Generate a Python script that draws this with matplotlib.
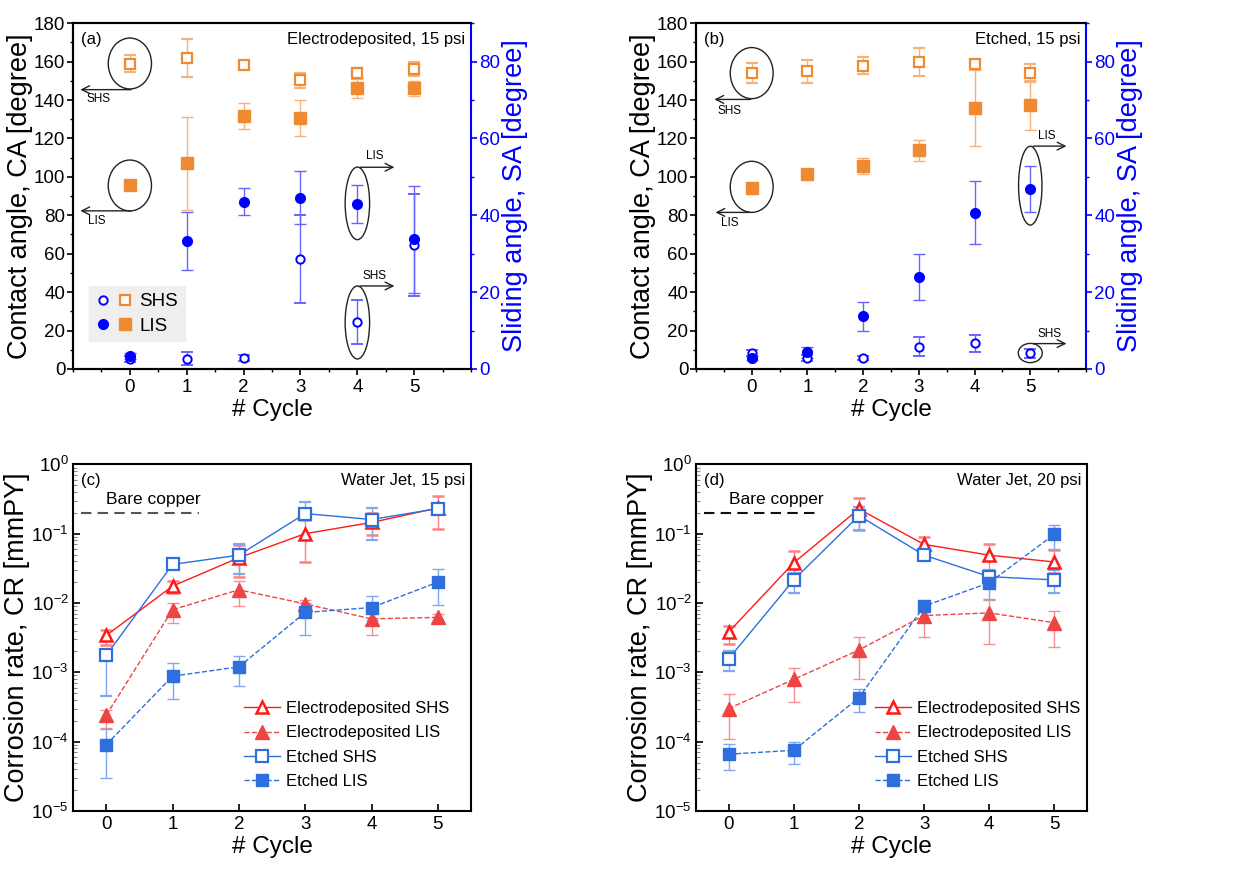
import numpy as np
import matplotlib
matplotlib.use("Agg")
import matplotlib.pyplot as plt
from matplotlib.patches import Ellipse
from matplotlib.legend_handler import HandlerTuple
from matplotlib.lines import Line2D
from matplotlib.ticker import MultipleLocator, LogLocator, NullFormatter

plt.rcParams['font.family'] = ['Liberation Sans', 'DejaVu Sans']
plt.rcParams['mathtext.fontset'] = 'custom'
plt.rcParams['mathtext.rm'] = 'Liberation Sans'
plt.rcParams['mathtext.it'] = 'Liberation Sans'

# ---------------- data ----------------
cycles = [0, 1, 2, 3, 4, 5]

# Panel (a) Electrodeposited, 15 psi
a_ca_shs = [159, 162, 158.4, 150.2, 153.8, 156.3]
a_ca_shs_err = [4.5, 10, 1.5, 3.7, 3.0, 3.7]
a_ca_lis = [96, 107, 131.7, 130.6, 146, 146]
a_ca_lis_err = [0, 24, 6.7, 9.5, 5.2, 4.0]
a_sa_shs = [2.5, 2.7, 2.9, 28.7, 12.3, 32.2]
a_sa_shs_err = [0.8, 1.6, 0.8, 11.5, 5.7, 13.3]
a_sa_lis = [3.4, 33.3, 43.5, 44.6, 42.9, 33.7]
a_sa_lis_err = [0.8, 7.6, 3.5, 7.0, 5.0, 14.0]

# Panel (b) Etched, 15 psi
b_ca_shs = [154, 155, 157.8, 159.7, 158.5, 154]
b_ca_shs_err = [5.3, 6.0, 4.5, 7.2, 1.0, 4.5]
b_ca_lis = [94.4, 101.4, 105.7, 113.8, 135.8, 137.6]
b_ca_lis_err = [0, 1.0, 4.0, 5.5, 20, 13]
b_sa_shs = [4.1, 2.8, 2.9, 5.8, 6.7, 4.1]
b_sa_shs_err = [0.8, 0.8, 0.5, 2.4, 2.2, 1.2]
b_sa_lis = [2.9, 4.3, 13.7, 24, 40.7, 46.9]
b_sa_lis_err = [0.5, 1.5, 3.8, 6.0, 8.3, 6.0]

# Panel (c) Water Jet, 15 psi  (value, lower, upper)
c_e_shs = [3.4e-3, 1.75e-2, 4.5e-2, 0.10, 0.145, 0.235]
c_e_shs_lo = [2.5e-3, 1.4e-2, 2.4e-2, 0.039, 0.096, 0.117]
c_e_shs_hi = [4.1e-3, 2.1e-2, 6.9e-2, 0.16, 0.20, 0.35]
c_e_lis = [2.4e-4, 8.0e-3, 1.55e-2, 9.7e-3, 5.9e-3, 6.2e-3]
c_e_lis_lo = [1.6e-4, 5.2e-3, 9.1e-3, 8.5e-3, 3.5e-3, 5.2e-3]
c_e_lis_hi = [2.9e-4, 9.9e-3, 2.1e-2, 1.1e-2, 7.1e-3, 6.9e-3]
c_t_shs = [1.75e-3, 3.6e-2, 4.9e-2, 0.195, 0.16, 0.23]
c_t_shs_lo = [4.6e-4, 3.3e-2, 2.6e-2, 0.158, 0.081, 0.20]
c_t_shs_hi = [2.1e-3, 3.9e-2, 7.0e-2, 0.287, 0.232, 0.26]
c_t_lis = [9.0e-5, 8.8e-4, 1.2e-3, 7.3e-3, 8.6e-3, 2.0e-2]
c_t_lis_lo = [2.95e-5, 4.1e-4, 6.4e-4, 3.5e-3, 5.7e-3, 9.3e-3]
c_t_lis_hi = [1.5e-4, 1.35e-3, 1.74e-3, 1.0e-2, 1.26e-2, 3.1e-2]

# Panel (d) Water Jet, 20 psi
d_e_shs = [3.8e-3, 3.8e-2, 0.227, 0.07, 0.049, 0.039]
d_e_shs_lo = [2.6e-3, 2.7e-2, 0.113, 0.058, 0.027, 0.027]
d_e_shs_hi = [4.6e-3, 5.7e-2, 0.33, 0.09, 0.072, 0.058]
d_e_lis = [3.0e-4, 7.9e-4, 2.1e-3, 6.6e-3, 7.2e-3, 5.2e-3]
d_e_lis_lo = [1.08e-4, 3.7e-4, 8.1e-4, 3.2e-3, 2.6e-3, 2.3e-3]
d_e_lis_hi = [4.8e-4, 1.15e-3, 3.25e-3, 9.9e-3, 1.1e-2, 7.7e-3]
d_t_shs = [1.56e-3, 2.15e-2, 0.182, 0.049, 0.024, 0.0215]
d_t_shs_lo = [1.05e-3, 1.4e-2, 0.113, 0.042, 0.019, 0.014]
d_t_shs_hi = [2.05e-3, 2.7e-2, 0.24, 0.056, 0.03, 0.03]
d_t_lis = [6.6e-5, 7.5e-5, 4.3e-4, 9.0e-3, 1.96e-2, 9.8e-2]
d_t_lis_lo = [3.9e-5, 4.7e-5, 2.7e-4, 8.0e-3, 1.15e-2, 6.1e-2]
d_t_lis_hi = [9.1e-5, 1.0e-4, 5.7e-4, 1.0e-2, 2.6e-2, 0.135]

bare_copper = 0.2
series_labels = ['Electrodeposited SHS', 'Electrodeposited LIS',
                 'Etched SHS', 'Etched LIS']

ORANGE = '#F08A30'
BLUE = '#0000FF'
RED = '#FF1A1A'
RED2 = '#EE4444'
EBLUE = '#2E6FDD'

fig = plt.figure(figsize=(12.52, 8.71), dpi=100)

H = 0.397
pos = {
    'a': [0.0583, 0.5764, 0.318, H],
    'b': [0.5559, 0.5764, 0.3115, H],
    'c': [0.0583, 0.0689, 0.318, 0.398],
    'd': [0.5559, 0.0689, 0.3123, 0.398],
}


def top_panel(key, ca_shs, ca_shs_err, ca_lis, ca_lis_err, sa_shs, sa_shs_err,
              sa_lis, sa_lis_err, title, label):
    ax = fig.add_axes(pos[key])
    ax2 = ax.twinx()
    ax.set_zorder(ax2.get_zorder() + 1)
    ax.patch.set_visible(False)
    # CA (left)
    ax.errorbar(cycles, ca_shs, yerr=ca_shs_err, fmt='s', ms=7, mfc='white',
                mec=ORANGE, mew=1.6, ecolor='#F6B27A', elinewidth=1,
                capsize=4, capthick=1, zorder=3)
    ax.errorbar(cycles, ca_lis, yerr=ca_lis_err, fmt='s', ms=8, mfc=ORANGE,
                mec=ORANGE, ecolor='#F6B27A', elinewidth=1, capsize=4,
                capthick=1, zorder=3)
    # SA (right)
    ax2.errorbar(cycles, sa_shs, yerr=sa_shs_err, fmt='o', ms=6, mfc='white',
                 mec=BLUE, mew=1.4, ecolor='#6666FF', elinewidth=1, capsize=4,
                 capthick=1, zorder=3)
    ax2.errorbar(cycles, sa_lis, yerr=sa_lis_err, fmt='o', ms=7, mfc=BLUE,
                 mec=BLUE, ecolor='#6666FF', elinewidth=1, capsize=4,
                 capthick=1, zorder=3)
    ax.set_xlim(-1, 6)
    ax.set_ylim(0, 180)
    ax2.set_ylim(0, 90)
    ax.set_xticks(cycles)
    ax.xaxis.set_minor_locator(MultipleLocator(0.5))
    ax.yaxis.set_major_locator(MultipleLocator(20))
    ax.yaxis.set_minor_locator(MultipleLocator(10))
    ax2.yaxis.set_major_locator(MultipleLocator(20))
    ax2.yaxis.set_minor_locator(MultipleLocator(10))
    ax.tick_params(axis='both', which='major', direction='out', length=4,
                   width=1.2, labelsize=13.5)
    ax.tick_params(axis='y', which='major', pad=1.5)
    ax.tick_params(axis='both', which='minor', direction='out', length=2.5,
                   width=1)
    ax2.tick_params(axis='y', which='major', direction='out', length=4,
                    width=1.2, labelsize=13.5, colors=BLUE, pad=2)
    ax2.tick_params(axis='y', which='minor', direction='out', length=2.5,
                    width=1, colors=BLUE)
    for s in ['left', 'bottom', 'top']:
        ax.spines[s].set_linewidth(1.5)
        ax2.spines[s].set_linewidth(1.5)
    ax2.spines['right'].set_color(BLUE)
    ax2.spines['right'].set_linewidth(1.5)
    ax.spines['right'].set_visible(False)
    ax.set_xlabel('# Cycle', fontsize=17.5, labelpad=2)
    ax.set_ylabel('Contact angle, CA [degree]', fontsize=19.5, labelpad=1)
    ax2.set_ylabel('Sliding angle, SA [degree]', fontsize=19.5, color=BLUE,
                   labelpad=1)
    ax.text(0.02, 0.975, label, transform=ax.transAxes, fontsize=12,
            va='top', ha='left')
    ax.text(0.985, 0.975, title, transform=ax.transAxes, fontsize=12,
            va='top', ha='right')
    return ax, ax2


def add_ellipse(ax, xy, w, h):
    ax.add_patch(Ellipse(xy, w, h, fill=False, ec='#222222', lw=1.0,
                         zorder=2))


def add_arrow(ax, start, end, txt, txtpos):
    ax.annotate('', xy=end, xytext=start,
                arrowprops=dict(arrowstyle='->', color='#222222', lw=1.0,
                                mutation_scale=14))
    ax.text(txtpos[0], txtpos[1], txt, fontsize=8.5, ha='center', va='center')


# ---- (a)
axa, axa2 = top_panel('a', a_ca_shs, a_ca_shs_err, a_ca_lis, a_ca_lis_err,
                      a_sa_shs, a_sa_shs_err, a_sa_lis, a_sa_lis_err,
                      'Electrodeposited, 15 psi', '(a)')
add_ellipse(axa, (0, 159), 0.76, 26.5)
add_arrow(axa, (0.07, 145.4), (-0.92, 145.4), 'SHS', (-0.55, 140.5))
add_ellipse(axa, (0, 95.5), 0.76, 26.5)
add_arrow(axa, (0.07, 82.3), (-0.92, 82.3), 'LIS', (-0.58, 77))
add_ellipse(axa2, (4, 43.1), 0.43, 18.9)
add_arrow(axa2, (4.0, 52.5), (4.7, 52.5), 'LIS', (4.3, 55.3))
add_ellipse(axa2, (4, 12.1), 0.43, 19.0)
add_arrow(axa2, (4.0, 21.6), (4.7, 21.6), 'SHS', (4.3, 24.3))

# legend for (a)
h_shs = (Line2D([], [], ls='none', marker='o', ms=6, mfc='white', mec=BLUE,
                mew=1.4),
         Line2D([], [], ls='none', marker='s', ms=7, mfc='white', mec=ORANGE,
                mew=1.6))
h_lis = (Line2D([], [], ls='none', marker='o', ms=7, mfc=BLUE, mec=BLUE),
         Line2D([], [], ls='none', marker='s', ms=8, mfc=ORANGE, mec=ORANGE))
leg = axa.legend([h_shs, h_lis], ['SHS', 'LIS'],
                 handler_map={tuple: HandlerTuple(ndivide=None, pad=0.3)},
                 loc='lower left', bbox_to_anchor=(0.04, 0.08),
                 fontsize=13.5, frameon=True, fancybox=False, framealpha=1,
                 handlelength=2.0, handletextpad=0.35, borderpad=0.35,
                 labelspacing=0.4, borderaxespad=0)
leg.get_frame().set_facecolor('#EFEFEF')
leg.get_frame().set_edgecolor('#EFEFEF')

# ---- (b)
axb, axb2 = top_panel('b', b_ca_shs, b_ca_shs_err, b_ca_lis, b_ca_lis_err,
                      b_sa_shs, b_sa_shs_err, b_sa_lis, b_sa_lis_err,
                      'Etched, 15 psi', '(b)')
add_ellipse(axb, (0, 154), 0.77, 26.6)
add_arrow(axb, (0.03, 140.3), (-0.72, 140.3), 'SHS', (-0.4, 134.5))
add_ellipse(axb, (0, 94.8), 0.77, 26.6)
add_arrow(axb, (0.03, 81.5), (-0.7, 81.5), 'LIS', (-0.4, 76))
add_ellipse(axb2, (5, 47.7), 0.42, 20.5)
add_arrow(axb2, (5.0, 58.0), (5.7, 58.0), 'LIS', (5.3, 60.6))
add_ellipse(axb2, (5, 4.15), 0.43, 5.0)
add_arrow(axb2, (5.0, 6.6), (5.7, 6.6), 'SHS', (5.35, 9.1))


# ---- (c), (d)
def bottom_panel(key, series, title, label, bare_color, leg_x):
    ax = fig.add_axes(pos[key])
    ax.set_yscale('log')
    styles = [
        dict(color=RED, ls='-', marker='^', mfc='white', mec=RED, ms=9,
             mew=1.8),
        dict(color=RED2, ls='--', marker='^', mfc=RED2, mec=RED2, ms=10,
             mew=1),
        dict(color=EBLUE, ls='-', marker='s', mfc='white', mec=EBLUE, ms=8,
             mew=1.6),
        dict(color=EBLUE, ls='--', marker='s', mfc=EBLUE, mec=EBLUE, ms=8.5,
             mew=1),
    ]
    ecolors = ['#FF8080', '#F59090', '#7FA8EE', '#7FA8EE']
    handles = []
    for (v, lo, hi), st, ec in zip(series, styles, ecolors):
        v = np.array(v)
        yerr = [v - np.array(lo), np.array(hi) - v]
        eb = ax.errorbar(cycles, v, yerr=yerr, lw=1.0, elinewidth=1,
                         capsize=4, capthick=1, ecolor=ec, **st)
        handles.append(eb[0])
    ax.plot([-0.38, 1.4], [bare_copper, bare_copper], ls=(0, (5, 3)),
            color=bare_color, lw=1.5)
    ax.text(0.0, bare_copper * 1.22, 'Bare copper', fontsize=12.5,
            ha='left', va='bottom')
    ax.set_xlim(-0.5, 5.5)
    ax.set_ylim(1e-5, 1)
    ax.set_xticks(cycles)
    ax.yaxis.set_major_locator(LogLocator(base=10, numticks=10))
    ax.yaxis.set_minor_locator(LogLocator(base=10, subs=np.arange(2, 10),
                                          numticks=20))
    ax.yaxis.set_minor_formatter(NullFormatter())
    ax.tick_params(axis='both', which='major', direction='in', length=5,
                   width=1.2, labelsize=13.5)
    ax.tick_params(axis='y', which='major', pad=3)
    ax.tick_params(axis='y', which='minor', direction='in', length=3,
                   width=0.8, color='#888888')
    for s in ax.spines.values():
        s.set_linewidth(1.5)
    ax.set_xlabel('# Cycle', fontsize=17.5, labelpad=2)
    ax.set_ylabel('Corrosion rate, CR [mmPY]', fontsize=19.5, labelpad=1)
    ax.text(0.02, 0.975, label, transform=ax.transAxes, fontsize=12,
            va='top', ha='left')
    ax.text(0.985, 0.975, title, transform=ax.transAxes, fontsize=12,
            va='top', ha='right')
    ax.legend(handles, series_labels, loc='lower right',
              bbox_to_anchor=(leg_x, 0.045), frameon=False, fontsize=12,
              handlelength=2.2, handletextpad=0.35, labelspacing=0.55,
              borderaxespad=0, borderpad=0.4)
    return ax


bottom_panel('c', [(c_e_shs, c_e_shs_lo, c_e_shs_hi),
                   (c_e_lis, c_e_lis_lo, c_e_lis_hi),
                   (c_t_shs, c_t_shs_lo, c_t_shs_hi),
                   (c_t_lis, c_t_lis_lo, c_t_lis_hi)],
             'Water Jet, 15 psi', '(c)', '#555555', 0.962)
bottom_panel('d', [(d_e_shs, d_e_shs_lo, d_e_shs_hi),
                   (d_e_lis, d_e_lis_lo, d_e_lis_hi),
                   (d_t_shs, d_t_shs_lo, d_t_shs_hi),
                   (d_t_lis, d_t_lis_lo, d_t_lis_hi)],
             'Water Jet, 20 psi', '(d)', '#111111', 1.0)

fig.savefig('out.png', dpi=100)
